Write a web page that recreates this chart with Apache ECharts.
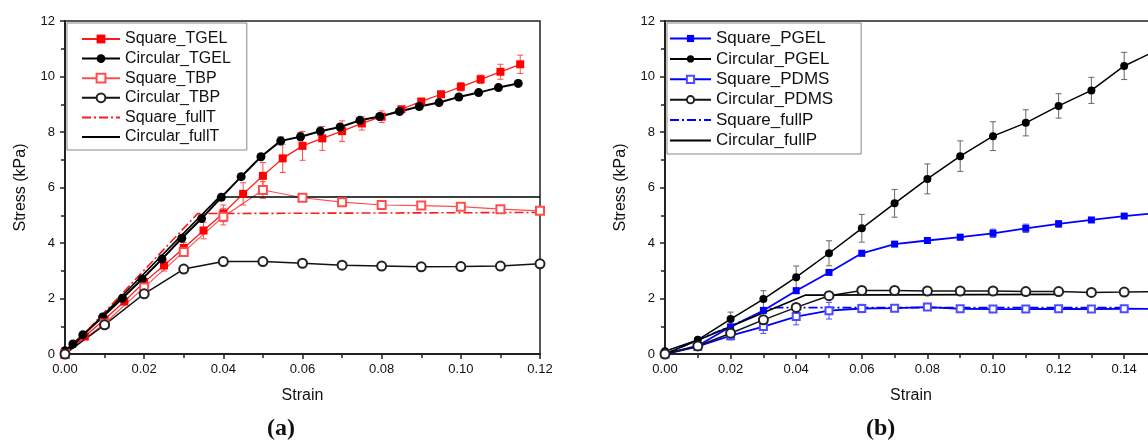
<!DOCTYPE html>
<html>
<head>
<meta charset="utf-8">
<script src="https://cdn.jsdelivr.net/npm/echarts@6/dist/echarts.min.js"></script>
<style>
html,body{margin:0;padding:0;background:#fff;}
#c{width:1148px;height:446px;}
</style>
</head>
<body>
<div id="c"></div>
<script>
// ---------- Panel (a) data ----------
const strainTGELc = [0, 0.002, 0.0045, 0.0095, 0.0145, 0.0195, 0.0245, 0.0295, 0.0345, 0.0395, 0.0445, 0.0495, 0.0545, 0.0595, 0.0645, 0.0695, 0.0745, 0.0795, 0.0845, 0.0895, 0.0945, 0.0995, 0.1045, 0.1095, 0.1145];
const circTGEL    = [0.12, 0.36, 0.69, 1.33, 2.01, 2.70, 3.42, 4.17, 4.88, 5.65, 6.39, 7.11, 7.68, 7.83, 8.03, 8.18, 8.42, 8.56, 8.74, 8.92, 9.06, 9.26, 9.42, 9.60, 9.75];
const circTGELerr = [0, 0.05, 0.05, 0.08, 0.08, 0.1, 0.1, 0.1, 0.1, 0.1, 0.1, 0.1, 0.15, 0.15, 0.15, 0.1, 0.1, 0.1, 0.1, 0.1, 0.1, 0.1, 0.1, 0.1, 0.12];

const strainTGELs = [0, 0.005, 0.01, 0.015, 0.02, 0.025, 0.03, 0.035, 0.04, 0.045, 0.05, 0.055, 0.06, 0.065, 0.07, 0.075, 0.08, 0.085, 0.09, 0.095, 0.10, 0.105, 0.11, 0.115];
const sqTGEL      = [0, 0.63, 1.25, 1.89, 2.59, 3.19, 3.82, 4.45, 5.07, 5.77, 6.42, 7.05, 7.50, 7.77, 8.03, 8.31, 8.55, 8.82, 9.10, 9.36, 9.63, 9.90, 10.17, 10.44];
const sqTGELerr   = [0, 0.05, 0.08, 0.1, 0.12, 0.2, 0.2, 0.3, 0.3, 0.4, 0.48, 0.51, 0.52, 0.43, 0.37, 0.24, 0.21, 0.1, 0.1, 0.1, 0.15, 0.15, 0.27, 0.33];

const strainTBP   = [0, 0.01, 0.02, 0.03, 0.04, 0.05, 0.06, 0.07, 0.08, 0.09, 0.10, 0.11, 0.12];
const sqTBP       = [0, 1.1, 2.4, 3.68, 4.95, 5.91, 5.63, 5.47, 5.37, 5.35, 5.31, 5.22, 5.16];
const sqTBPerr    = [0, 0.08, 0.2, 0.15, 0.3, 0.3, 0.05, 0.05, 0.05, 0.05, 0.05, 0.05, 0.05];
const circTBP     = [0, 1.05, 2.17, 3.06, 3.33, 3.33, 3.27, 3.20, 3.17, 3.14, 3.15, 3.17, 3.25];

const strainFullTs = [0, 0.0335, 0.12];
const sqFullT      = [0, 5.06, 5.10];
const strainFullTc = [0, 0.039, 0.12];
const circFullT    = [0, 5.66, 5.66];

// ---------- Panel (b) data ----------
const strainP     = [0, 0.01, 0.02, 0.03, 0.04, 0.05, 0.06, 0.07, 0.08, 0.09, 0.10, 0.11, 0.12, 0.13, 0.14, 0.15];
const circPGEL    = [0.1, 0.51, 1.26, 1.98, 2.77, 3.63, 4.53, 5.43, 6.31, 7.13, 7.85, 8.33, 8.94, 9.50, 10.38, 10.95];
const circPGELerr = [0, 0.08, 0.25, 0.3, 0.4, 0.45, 0.5, 0.5, 0.54, 0.55, 0.52, 0.47, 0.44, 0.47, 0.49, 0.5];
const sqPGEL      = [0, 0.30, 0.98, 1.57, 2.28, 2.94, 3.63, 3.96, 4.09, 4.21, 4.35, 4.53, 4.69, 4.83, 4.97, 5.08];
const sqPGELerr   = [0, 0.05, 0.08, 0.1, 0.1, 0.1, 0.1, 0.08, 0.08, 0.1, 0.15, 0.15, 0.12, 0.08, 0.08, 0.08];
const sqPDMS      = [0, 0.27, 0.66, 0.99, 1.35, 1.56, 1.64, 1.65, 1.69, 1.63, 1.62, 1.62, 1.63, 1.62, 1.63, 1.62];
const sqPDMSerr   = [0, 0.05, 0.15, 0.25, 0.3, 0.3, 0.15, 0.05, 0.08, 0.05, 0.05, 0.05, 0.05, 0.05, 0.05, 0.05];
const circPDMS    = [0, 0.29, 0.75, 1.23, 1.68, 2.10, 2.29, 2.29, 2.27, 2.27, 2.27, 2.25, 2.25, 2.22, 2.23, 2.25];

const strainFullPs = [0, 0.033, 0.142];
const sqFullP      = [0, 1.67, 1.67];
const strainFullPc = [0, 0.0427, 0.12];
const circFullP    = [0, 2.12, 2.15];

const yTicks = { min: 0, max: 12, interval: 2 };
const legendA = ['Square_TGEL', 'Circular_TGEL', 'Square_TBP', 'Circular_TBP', 'Square_fullT', 'Circular_fullT'];
const legendB = ['Square_PGEL', 'Circular_PGEL', 'Square_PDMS', 'Circular_PDMS', 'Square_fullP', 'Circular_fullP'];
const noSymbolNames = ['Square_fullT', 'Circular_fullT', 'Square_fullP', 'Circular_fullP'];

// ---------- helpers ----------
const zip = (xs, ys) => xs.map((x, i) => [x, ys[i]]);
const FONT = 'Liberation Sans, Arial, sans-serif';

function lineSeries(name, xs, ys, gi, opt) {
  return Object.assign({
    type: 'line', name: name, xAxisIndex: gi, yAxisIndex: gi,
    data: zip(xs, ys), animation: false, z: 3
  }, opt);
}

function errSeries(xs, ys, es, gi, color) {
  return {
    type: 'custom', xAxisIndex: gi, yAxisIndex: gi, silent: true, animation: false, z: 2,
    data: xs.map((x, i) => [x, ys[i], es[i]]),
    encode: { x: 0, y: 1 },
    renderItem: function (params, api) {
      const x = api.value(0), y = api.value(1), e = api.value(2);
      if (!e) return null;
      const t = api.coord([x, y + e]), b = api.coord([x, y - e]);
      const w = 3;
      const st = { stroke: color, lineWidth: 1 };
      return {
        type: 'group', children: [
          { type: 'line', shape: { x1: t[0], y1: t[1], x2: b[0], y2: b[1] }, style: st },
          { type: 'line', shape: { x1: t[0] - w, y1: t[1], x2: t[0] + w, y2: t[1] }, style: st },
          { type: 'line', shape: { x1: b[0] - w, y1: b[1], x2: b[0] + w, y2: b[1] }, style: st }
        ]
      };
    }
  };
}

const RED = '#ff1a1a', RED_L = '#ff4d4d', BLUE = '#0000ff', BLUE_L = '#4d4dff', BLK = '#000';
const dashDot = [9, 3, 2, 3];

function xAxis(gi, max) {
  return {
    type: 'value', gridIndex: gi, min: 0, max: max, interval: 0.02,
    name: 'Strain', nameLocation: 'middle', nameGap: 34,
    nameTextStyle: { fontSize: 16, color: '#111', fontFamily: FONT },
    axisLine: { onZero: false, lineStyle: { color: '#222', width: 2 } },
    axisTick: { show: true, inside: false, length: 5, lineStyle: { color: '#222', width: 1.5 } },
    minorTick: { show: true, splitNumber: 2, length: 4, lineStyle: { color: '#222', width: 1.5 } },
    axisLabel: { fontSize: 13, color: '#111', fontFamily: FONT, margin: 9, showMaxLabel: gi === 0,
      formatter: v => v.toFixed(2) },
    splitLine: { show: false }
  };
}
function yAxis(gi) {
  return {
    type: 'value', gridIndex: gi, min: yTicks.min, max: yTicks.max, interval: yTicks.interval,
    name: 'Stress (kPa)', nameLocation: 'middle', nameGap: 36,
    nameTextStyle: { fontSize: 16, color: '#111', fontFamily: FONT },
    axisLine: { show: true, onZero: false, lineStyle: { color: '#222', width: 2 } },
    axisTick: { show: true, inside: false, length: 5, lineStyle: { color: '#222', width: 1.5 } },
    minorTick: { show: true, splitNumber: 2, length: 4, lineStyle: { color: '#222', width: 1.5 } },
    axisLabel: { fontSize: 13, color: '#111', fontFamily: FONT, margin: 10 },
    splitLine: { show: false }
  };
}

function legendData(names) {
  return names.map(n => noSymbolNames.indexOf(n) >= 0
    ? { name: n, itemStyle: { color: 'rgba(0,0,0,0)', borderColor: 'rgba(0,0,0,0)', borderWidth: 0, opacity: 0 } }
    : { name: n });
}

const legendBase = {
  orient: 'vertical', backgroundColor: '#fff', borderColor: '#888', borderWidth: 1, borderRadius: 0,
  itemWidth: 38, itemHeight: 11,
  selectedMode: false
};

const series = [
  // panel (a)
  errSeries(strainTGELs, sqTGEL, sqTGELerr, 0, RED_L),
  errSeries(strainTGELc, circTGEL, circTGELerr, 0, '#777'),
  errSeries(strainTBP, sqTBP, sqTBPerr, 0, RED_L),
  lineSeries('Square_TGEL', strainTGELs, sqTGEL, 0, {
    symbol: 'rect', symbolSize: 8, itemStyle: { color: '#ff0000' }, lineStyle: { color: RED, width: 1.3 } }),
  lineSeries('Circular_TGEL', strainTGELc, circTGEL, 0, {
    symbol: 'circle', symbolSize: 9, itemStyle: { color: BLK }, lineStyle: { color: BLK, width: 2 } }),
  lineSeries('Square_TBP', strainTBP, sqTBP, 0, {
    symbol: 'emptyRect', symbolSize: 8, itemStyle: { color: RED_L, borderColor: RED_L, borderWidth: 1.2 }, lineStyle: { color: RED_L, width: 1.2 } }),
  lineSeries('Circular_TBP', strainTBP, circTBP, 0, {
    symbol: 'emptyCircle', symbolSize: 9, itemStyle: { color: '#222', borderColor: '#222', borderWidth: 1 }, lineStyle: { color: '#111', width: 1.5 } }),
  lineSeries('Square_fullT', strainFullTs, sqFullT, 0, {
    symbol: 'none', itemStyle: { color: RED }, lineStyle: { color: RED, width: 1.6, type: dashDot } }),
  lineSeries('Circular_fullT', strainFullTc, circFullT, 0, {
    symbol: 'none', itemStyle: { color: BLK }, lineStyle: { color: BLK, width: 1.6 } }),
  // panel (b)
  errSeries(strainP, circPGEL, circPGELerr, 1, '#666'),
  errSeries(strainP, sqPGEL, sqPGELerr, 1, BLUE_L),
  errSeries(strainP, sqPDMS, sqPDMSerr, 1, BLUE_L),
  lineSeries('Square_PGEL', strainP, sqPGEL, 1, {
    symbol: 'rect', symbolSize: 7, itemStyle: { color: BLUE }, lineStyle: { color: BLUE, width: 1.8 } }),
  lineSeries('Circular_PGEL', strainP, circPGEL, 1, {
    symbol: 'circle', symbolSize: 8, itemStyle: { color: BLK }, lineStyle: { color: BLK, width: 1.5 } }),
  lineSeries('Square_PDMS', strainP, sqPDMS, 1, {
    symbol: 'emptyRect', symbolSize: 7, itemStyle: { color: BLUE_L, borderColor: BLUE_L, borderWidth: 1.2 }, lineStyle: { color: BLUE, width: 1.8 } }),
  lineSeries('Circular_PDMS', strainP, circPDMS, 1, {
    symbol: 'emptyCircle', symbolSize: 9, itemStyle: { color: '#222', borderColor: '#222', borderWidth: 1 }, lineStyle: { color: '#111', width: 1.5 } }),
  lineSeries('Square_fullP', strainFullPs, sqFullP, 1, {
    symbol: 'none', itemStyle: { color: BLUE }, lineStyle: { color: BLUE, width: 1.6, type: dashDot } }),
  lineSeries('Circular_fullP', strainFullPc, circFullP, 1, {
    symbol: 'none', itemStyle: { color: BLK }, lineStyle: { color: BLK, width: 1.6 } })
];

const chart = echarts.init(document.getElementById('c'), null, { renderer: 'canvas' });
chart.setOption({
  backgroundColor: '#fff',
  animation: false,
  grid: [
    { left: 65, top: 21, width: 475, height: 333, show: true, borderColor: '#222', borderWidth: 1.5, backgroundColor: 'transparent', containLabel: false, outerBoundsMode: 'none' },
    { left: 665, top: 21, right: -9, height: 333, show: true, borderColor: '#222', borderWidth: 1.5, backgroundColor: 'transparent', containLabel: false, outerBoundsMode: 'none' }
  ],
  xAxis: [xAxis(0, 0.12), xAxis(1, 0.15)],
  yAxis: [yAxis(0), yAxis(1)],
  legend: [
    Object.assign({}, legendBase, { data: legendData(legendA), left: 67, top: 23, padding: [8, 16, 5, 14], itemGap: 3.6,
      textStyle: { fontSize: 16, lineHeight: 16, color: '#111', fontFamily: FONT } }),
    Object.assign({}, legendBase, { data: legendData(legendB), left: 667, top: 23, padding: [7, 28, 5, 2], itemWidth: 41, itemHeight: 9, itemGap: 3.4,
      textStyle: { fontSize: 17, lineHeight: 17, color: '#111', fontFamily: FONT } })
  ],
  graphic: [
    { type: 'text', left: 267, top: 417, style: { text: '(a)', font: 'bold 24px "Liberation Serif", "DejaVu Serif", serif', fill: '#111' } },
    { type: 'text', left: 866, top: 417, style: { text: '(b)', font: 'bold 24px "Liberation Serif", "DejaVu Serif", serif', fill: '#111' } }
  ],
  series: series
});
</script>
</body>
</html>
